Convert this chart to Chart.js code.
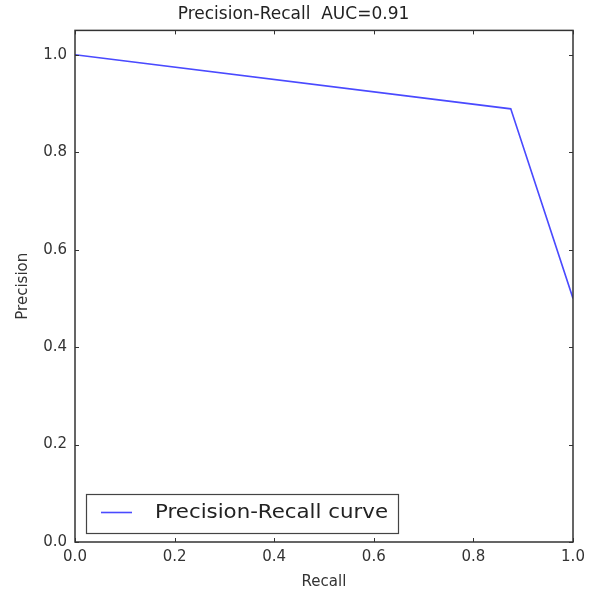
<!DOCTYPE html>
<html>
<head>
<meta charset="utf-8">
<script src="https://cdn.jsdelivr.net/npm/chart.js@4.4.1/dist/chart.umd.min.js"></script>
<style>
  html, body { margin: 0; padding: 0; background: #fff; }
  #wrap { width: 597px; height: 594px; }
</style>
</head>
<body>
<div id="wrap"><canvas id="prChart"></canvas></div>
<script>
// curve data
var recall = [0.0, 0.875, 1.0];
var precision = [1.0, 0.889, 0.5];
var tickValues = [0.0, 0.2, 0.4, 0.6, 0.8, 1.0];
var seriesLabel = "Precision-Recall curve";

var points = recall.map(function (r, i) { return { x: r, y: precision[i] }; });

// matplotlib-like frame: box on all sides with inward ticks, legend inside
var frameTicks = {
  id: "frameTicks",
  afterDraw: function (chart) {
    var c = chart.ctx, a = chart.chartArea;
    var xs = chart.scales.x, ys = chart.scales.y;
    var len = 4;
    c.save();
    c.strokeStyle = "#333";
    c.lineWidth = 1;
    tickValues.forEach(function (v) {
      var px = Math.round(xs.getPixelForValue(v)) + 0.5;
      c.beginPath();
      c.moveTo(px, a.bottom); c.lineTo(px, a.bottom - len);
      c.moveTo(px, a.top); c.lineTo(px, a.top + len);
      c.stroke();
      var py = Math.round(ys.getPixelForValue(v)) + 0.5;
      c.beginPath();
      c.moveTo(a.left, py); c.lineTo(a.left + len, py);
      c.moveTo(a.right, py); c.lineTo(a.right - len, py);
      c.stroke();
    });
    c.lineWidth = 1.5;
    c.strokeRect(a.left, a.top, a.right - a.left, a.bottom - a.top);

    // legend box, lower left
    var bx = a.left + 11, by = a.bottom - 48, bw = 312, bh = 39;
    c.fillStyle = "#fff";
    c.fillRect(bx, by, bw, bh);
    c.lineWidth = 1.2;
    c.strokeStyle = "#444";
    c.strokeRect(bx + 0.5, by + 0.5, bw, bh);
    var ds = chart.data.datasets[0];
    c.strokeStyle = ds.borderColor;
    c.lineWidth = 1.6;
    c.beginPath();
    c.moveTo(bx + 15, by + 18.5);
    c.lineTo(bx + 46, by + 18.5);
    c.stroke();
    c.fillStyle = "#222";
    c.font = "20px 'DejaVu Sans'";
    c.textBaseline = "middle";
    var w = c.measureText(ds.label).width;
    c.translate(bx + 69, by + 19);
    c.scale(Math.min(1.1, 233 / w), 1);
    c.fillText(ds.label, 0, 0);
    c.restore();
  }
};

var ctx = document.getElementById("prChart").getContext("2d");
var myChart = new Chart(ctx, {
  type: "line",
  data: {
    datasets: [{
      label: seriesLabel,
      data: points,
      borderColor: "#4a4aff",
      borderWidth: 1.6,
      pointRadius: 0,
      tension: 0,
      fill: false
    }]
  },
  options: {
    responsive: true,
    maintainAspectRatio: false,
    animation: false,
    layout: { padding: { left: 14, right: 24, top: 0, bottom: 0 } },
    plugins: {
      legend: { display: false },
      tooltip: { enabled: false },
      title: {
        display: true,
        text: "Precision-Recall  AUC=0.91",
        color: "#222",
        font: { family: "DejaVu Sans", size: 17, weight: "normal", lineHeight: 1.2 },
        padding: { top: 4, bottom: 6 }
      }
    },
    scales: {
      x: {
        type: "linear",
        min: 0, max: 1,
        grid: { display: false, drawTicks: false },
        border: { display: false },
        afterBuildTicks: function (s) { s.ticks = tickValues.map(function (v) { return { value: v }; }); },
        ticks: {
          padding: 6,
          color: "#333",
          maxRotation: 0,
          font: { family: "DejaVu Sans", size: 15 },
          callback: function (v) { return Number(v).toFixed(1); }
        },
        title: {
          display: true, text: "Recall", color: "#333",
          font: { family: "DejaVu Sans", size: 15 },
          padding: { top: 2, bottom: 3 }
        },
        afterFit: function (s) { s.height = 52; }
      },
      y: {
        type: "linear",
        min: 0, max: 1.05,
        grid: { display: false, drawTicks: false },
        border: { display: false },
        afterBuildTicks: function (s) { s.ticks = tickValues.map(function (v) { return { value: v }; }); },
        ticks: {
          padding: 8,
          color: "#333",
          font: { family: "DejaVu Sans", size: 15 },
          callback: function (v) { return Number(v).toFixed(1); }
        },
        title: {
          display: true, text: "Precision", color: "#333",
          font: { family: "DejaVu Sans", size: 15 },
          padding: { top: 0, bottom: 4 }
        },
        afterFit: function (s) { s.width = 61; }
      }
    }
  },
  plugins: [frameTicks]
});
</script>
</body>
</html>
